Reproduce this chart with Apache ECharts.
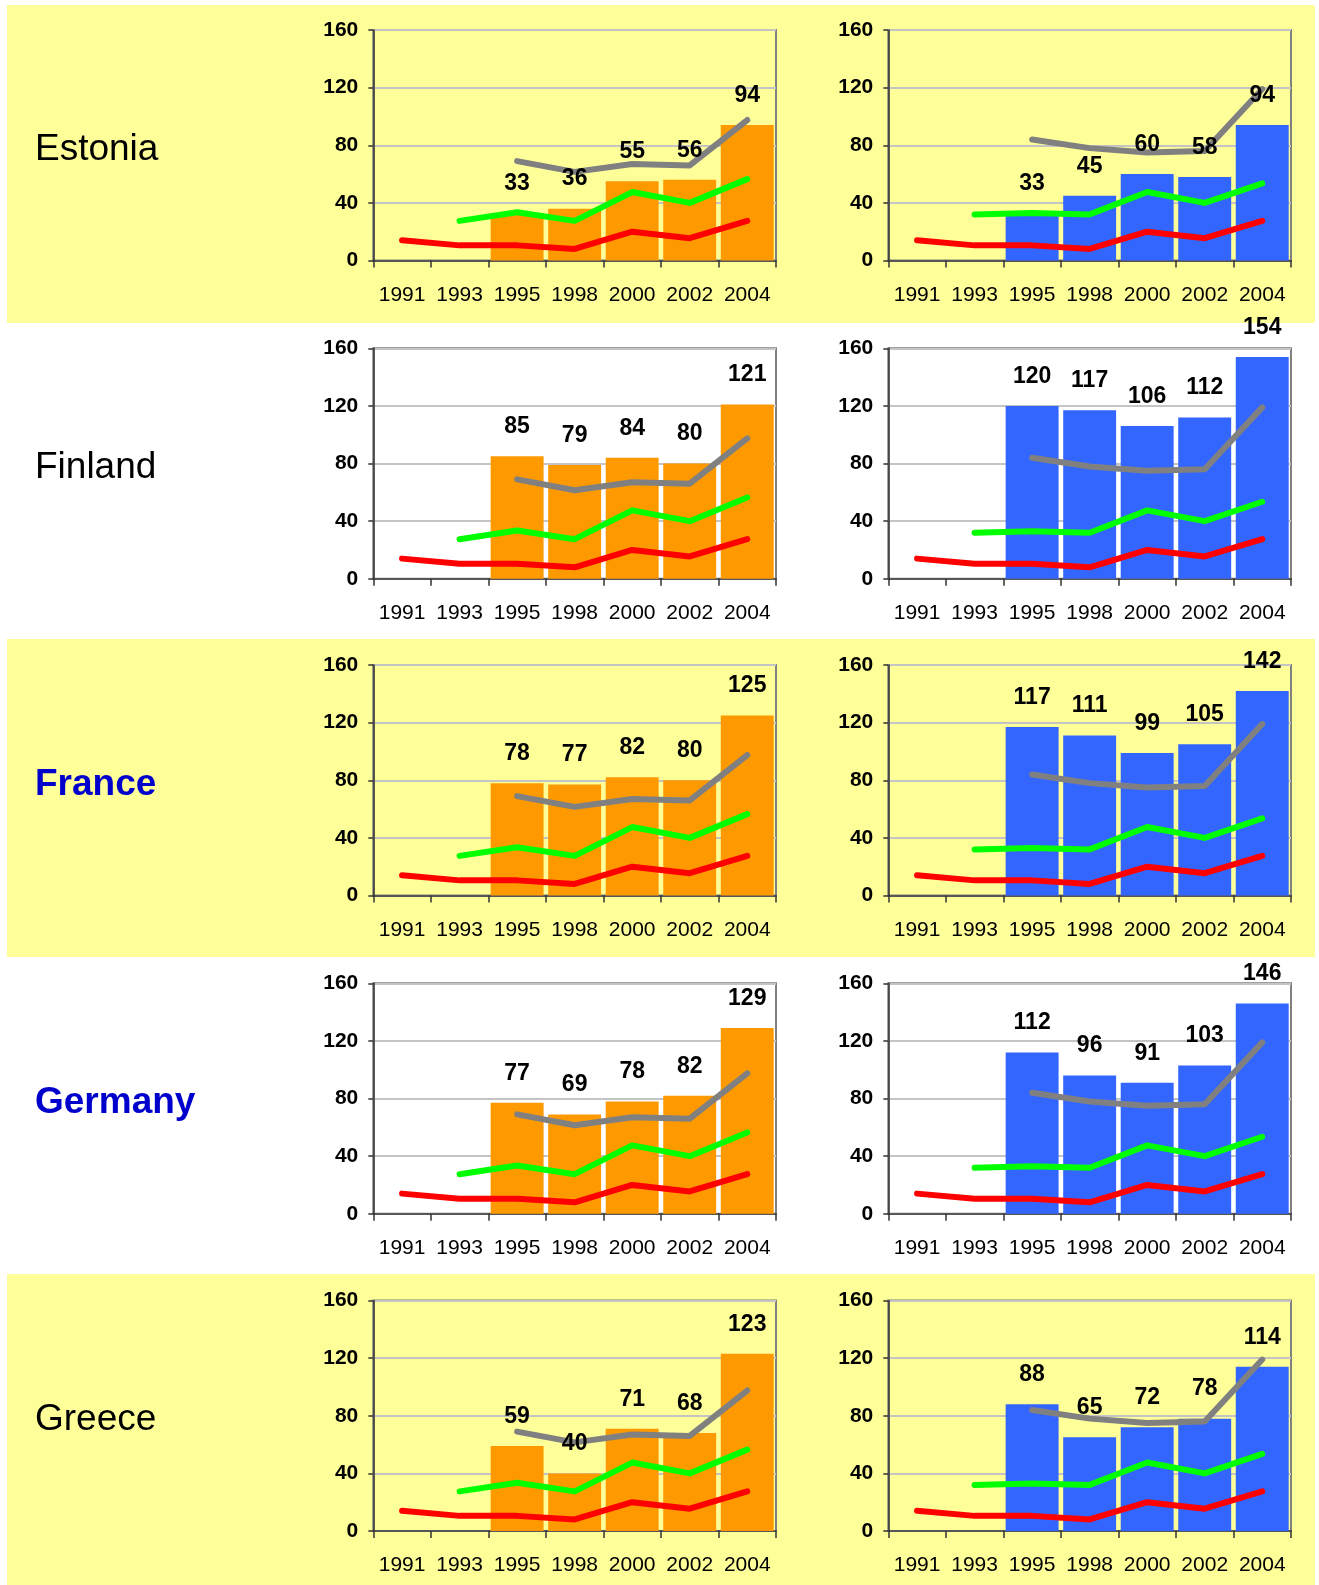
<!DOCTYPE html>
<html>
<head>
<meta charset="utf-8">
<script src="https://cdn.jsdelivr.net/npm/echarts@6/dist/echarts.min.js"></script>
<style>
  html, body { margin: 0; padding: 0; background: #ffffff; }
  #wrap { position: relative; width: 1319px; height: 1585px; overflow: hidden; }
  .band { position: absolute; background: #FFFF99; }
  #chart { position: absolute; left: 0; top: 0; width: 1319px; height: 1585px; }
</style>
</head>
<body>
<div id="wrap">
  <div class="band" style="left:7px;top:5px;width:1308px;height:318px;"></div>
  <div class="band" style="left:7px;top:639px;width:1308px;height:318px;"></div>
  <div class="band" style="left:7px;top:1274px;width:1308px;height:311px;"></div>
  <div id="chart"></div>
</div>
<script>
// ---- data ----
const years = ['1991', '1993', '1995', '1998', '2000', '2002', '2004'];
const countries = ['Estonia', 'Finland', 'France', 'Germany', 'Greece'];
const yTicks = [0, 40, 80, 120, 160];

const estoniaLeft  = [null, null, 33, 36, 55, 56, 94];
const estoniaRight = [null, null, 33, 45, 60, 58, 94];
const finlandLeft  = [null, null, 85, 79, 84, 80, 121];
const finlandRight = [null, null, 120, 117, 106, 112, 154];
const franceLeft   = [null, null, 78, 77, 82, 80, 125];
const franceRight  = [null, null, 117, 111, 99, 105, 142];
const germanyLeft  = [null, null, 77, 69, 78, 82, 129];
const germanyRight = [null, null, 112, 96, 91, 103, 146];
const greeceLeft   = [null, null, 59, 40, 71, 68, 123];
const greeceRight  = [null, null, 88, 65, 72, 78, 114];

const redLeft    = [14, 10.5, 10.5, 8, 20, 15.5, 27.5];
const greenLeft  = [null, 27.5, 33.5, 27.5, 47.5, 40, 56.5];
const grayLeft   = [null, null, 69, 61.5, 67, 66, 97.5];
const redRight   = [14, 10.5, 10.5, 8, 20, 15.5, 27.5];
const greenRight = [null, 32, 33, 32, 47.5, 40, 53.5];
const grayRight  = [null, null, 84, 78, 75, 76, 119];

// ---- layout / style ----
const FONT = 'Liberation Sans, Arial, Helvetica, sans-serif';
const leftBars  = [estoniaLeft, finlandLeft, franceLeft, germanyLeft, greeceLeft];
const rightBars = [estoniaRight, finlandRight, franceRight, germanyRight, greeceRight];
const rowTops = [30, 348.3, 665, 983.3, 1300.5];
const colLefts = [373.3, 888.3];
const plotW = 402.7, plotH = 230.5;
const boldBlue = { France: true, Germany: true };

const grids = [], xAxes = [], yAxes = [], series = [], graphics = [];
let gi = 0;
countries.forEach((name, r) => {
  graphics.push({
    type: 'text', left: 35, top: rowTops[r] + plotH / 2 - 14,
    style: {
      text: name, fontSize: 37, fontFamily: FONT,
      fontWeight: boldBlue[name] ? 'bold' : 'normal',
      fill: boldBlue[name] ? '#0000CC' : '#000000'
    }
  });
  [0, 1].forEach(c => {
    const bars = c === 0 ? leftBars[r] : rightBars[r];
    const barColor = c === 0 ? '#FF9900' : '#3366FF';
    const red = c === 0 ? redLeft : redRight;
    const green = c === 0 ? greenLeft : greenRight;
    const gray = c === 0 ? grayLeft : grayRight;
    grids.push({
      left: colLefts[c], top: rowTops[r], width: plotW, height: plotH,
      show: true, borderColor: '#808080', borderWidth: 2, backgroundColor: 'transparent'
    });
    xAxes.push({
      type: 'category', gridIndex: gi, data: years, boundaryGap: true,
      axisLine: { show: true, lineStyle: { color: '#333333', width: 1.5 } },
      axisTick: { show: true, length: 7, interval: 0, lineStyle: { color: '#333333', width: 1.5 } },
      axisLabel: { interval: 0, margin: 24, fontSize: 21, color: '#000', fontFamily: FONT },
      splitLine: { show: false }
    });
    yAxes.push({
      type: 'value', gridIndex: gi, min: yTicks[0], max: yTicks[yTicks.length - 1], interval: 40,
      axisLine: { show: true, lineStyle: { color: '#333333', width: 1.5 } },
      axisTick: { show: true, length: 5, lineStyle: { color: '#333333', width: 1.5 } },
      axisLabel: { margin: 15, fontSize: 21, fontWeight: 'bold', color: '#000', fontFamily: FONT },
      splitLine: { show: true, lineStyle: { color: '#C4C4C4', width: 2 } }
    });
    series.push({
      type: 'bar', xAxisIndex: gi, yAxisIndex: gi, data: bars,
      barCategoryGap: '8%', barGap: '-100%',
      itemStyle: { color: barColor }, z: 2, silent: true
    });
    const lineBase = {
      type: 'line', xAxisIndex: gi, yAxisIndex: gi, symbol: 'none', showSymbol: false,
      connectNulls: false, silent: true, z: 3
    };
    series.push(Object.assign({}, lineBase, { data: red,
      lineStyle: { color: '#FF0000', width: 6, cap: 'round', join: 'round' } }));
    series.push(Object.assign({}, lineBase, { data: green,
      lineStyle: { color: '#00FF00', width: 6, cap: 'round', join: 'round' } }));
    series.push(Object.assign({}, lineBase, { data: gray,
      lineStyle: { color: '#808080', width: 6, cap: 'round', join: 'round' } }));
    // label carrier (transparent) so value labels sit above the lines
    series.push({
      type: 'bar', xAxisIndex: gi, yAxisIndex: gi, data: bars,
      barCategoryGap: '8%', barGap: '-100%', silent: true, z: 5,
      itemStyle: { color: 'rgba(0,0,0,0)' },
      label: { show: true, position: 'top', distance: 18, fontSize: 23, fontWeight: 'bold',
               color: '#000', fontFamily: FONT }
    });
    gi++;
  });
});

const chart = echarts.init(document.getElementById('chart'), null, { renderer: 'canvas' });
chart.setOption({
  animation: false,
  grid: grids, xAxis: xAxes, yAxis: yAxes, series: series,
  graphic: graphics
});
</script>
</body>
</html>
